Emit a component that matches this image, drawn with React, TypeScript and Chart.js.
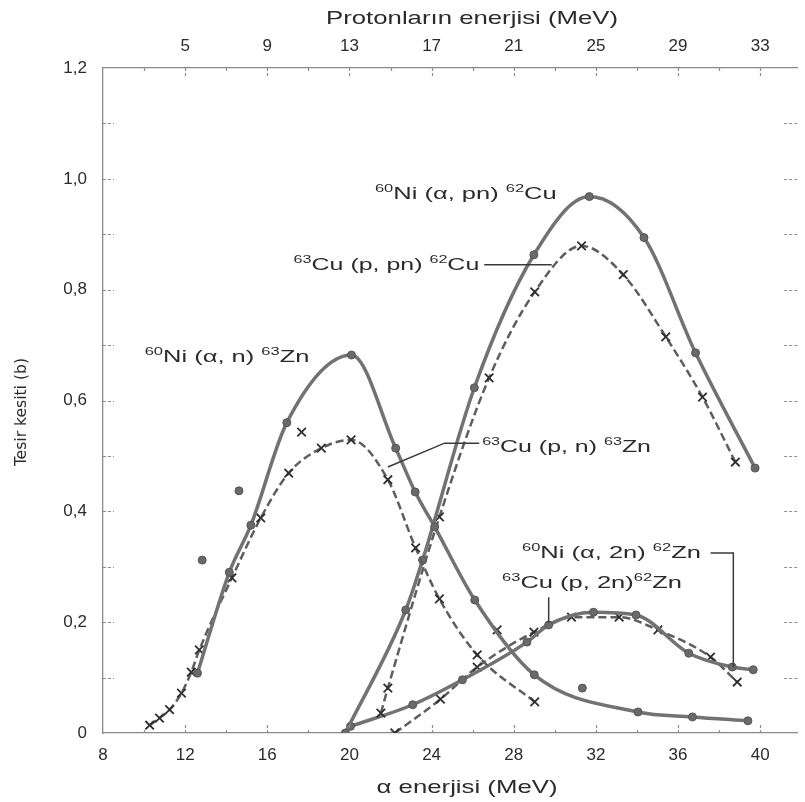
import React, { useEffect, useRef } from 'react';
import { Chart, registerables } from 'chart.js';

Chart.register(...registerables);

// ---- axis ticks ----
const alphaTicks = [8, 12, 16, 20, 24, 28, 32, 36, 40];
const protonTicks = [5, 9, 13, 17, 21, 25, 29, 33];
const sigmaTicks = [0, 0.2, 0.4, 0.6, 0.8, 1.0, 1.2];
const protonShift = 7; // alpha energy - proton energy at the same position

// ---- 60Ni(α,n)63Zn (solid, circles) ----
const niAnX = [12.6, 14.15, 15.2, 16.95, 20.1, 22.25, 23.2, 24.15, 26.1, 29.0, 34.05, 36.7, 39.4];
const niAnY = [0.108, 0.29, 0.375, 0.56, 0.682, 0.514, 0.435, 0.372, 0.24, 0.105, 0.038, 0.029, 0.022];

// ---- 63Cu(p,n)63Zn (dashed, crosses) ----
const cuPnX = [10.27, 10.75, 11.24, 11.82, 12.3, 12.69, 14.28, 15.68, 17.04, 18.63, 20.08, 21.87, 23.22, 24.38, 26.22, 29.02];
const cuPnY = [0.014, 0.027, 0.042, 0.072, 0.11, 0.15, 0.28, 0.388, 0.469, 0.514, 0.529, 0.457, 0.334, 0.242, 0.141, 0.056];

// ---- 60Ni(α,pn)62Cu (solid, circles) ----
const niApnX = [19.8, 22.74, 23.56, 26.08, 28.98, 31.68, 34.34, 36.85, 39.75];
const niApnY = [0.0, 0.222, 0.312, 0.623, 0.863, 0.968, 0.894, 0.686, 0.478];

// ---- 63Cu(p,pn)62Cu (dashed, crosses) ----
const cuPpnX = [21.53, 21.87, 24.38, 26.8, 29.02, 31.3, 33.33, 35.4, 37.19, 38.79];
const cuPpnY = [0.036, 0.081, 0.39, 0.641, 0.796, 0.879, 0.827, 0.715, 0.606, 0.489];

// ---- 60Ni(α,2n)62Zn (solid, circles) ----
const niA2nX = [20.05, 23.08, 25.5, 28.64, 29.7, 31.88, 33.95, 36.52, 38.64, 39.66];
const niA2nY = [0.012, 0.051, 0.096, 0.164, 0.195, 0.218, 0.213, 0.144, 0.119, 0.114];

// ---- 63Cu(p,2n)62Zn (dashed, crosses) ----
const cuP2nX = [22.21, 24.43, 26.22, 28.98, 30.81, 33.13, 35.02, 37.58, 38.88];
const cuP2nY = [0.0, 0.061, 0.119, 0.182, 0.209, 0.209, 0.186, 0.137, 0.092];

// ---- isolated measurements ----
const strayDotX = [12.83, 14.62, 31.34];
const strayDotY = [0.312, 0.437, 0.081];
const strayCrossX = [17.67, 27.19];
const strayCrossY = [0.543, 0.186];

const FONT = '"Liberation Sans", Arial, Helvetica, sans-serif';
const NARROW = '"Liberation Sans Narrow", "DejaVu Sans Condensed", "Liberation Sans", sans-serif';
const INK = '#2b2b2b';

const pts = (xs: number[], ys: number[]) => xs.map((x, i) => ({ x, y: ys[i] }));

type Seg = [string, boolean];
interface Label {
  segs: Seg[];
  x1: number;
  x2: number;
  y: number;
  leader?: [number, number][];
}

const labels: Label[] = [
  { segs: [['60', true], ['Ni (α, n) ', false], ['63', true], ['Zn', false]], x1: 10.03, x2: 18.14, y: 0.67 },
  { segs: [['60', true], ['Ni (α, pn) ', false], ['62', true], ['Cu', false]], x1: 21.24, x2: 30.09, y: 0.964 },
  {
    segs: [['63', true], ['Cu (p, pn) ', false], ['62', true], ['Cu', false]], x1: 17.28, x2: 26.32, y: 0.836,
    leader: [[26.56, 0.845], [29.85, 0.845]],
  },
  {
    segs: [['63', true], ['Cu (p, n) ', false], ['63', true], ['Zn', false]], x1: 26.46, x2: 34.68, y: 0.507,
    leader: [[26.32, 0.523], [24.63, 0.523], [21.87, 0.48]],
  },
  {
    segs: [['60', true], ['Ni (α, 2n) ', false], ['62', true], ['Zn', false]], x1: 28.4, x2: 37.34, y: 0.316,
    leader: [[37.58, 0.325], [38.69, 0.325], [38.69, 0.119]],
  },
  {
    segs: [['63', true], ['Cu (p, 2n)', false], ['62', true], ['Zn', false]], x1: 27.43, x2: 36.47, y: 0.262,
    leader: [[29.7, 0.245], [29.7, 0.199]],
  },
];

function drawFit(ctx: CanvasRenderingContext2D, text: string, cx: number, cy: number, size: number, targetW: number, family: string, rot = 0) {
  ctx.save();
  ctx.font = `${size}px ${family}`;
  const w = ctx.measureText(text).width;
  const sx = Math.max(0.75, Math.min(1.5, targetW / w));
  ctx.translate(cx, cy);
  ctx.rotate(rot);
  ctx.scale(sx, 1);
  ctx.fillStyle = INK;
  ctx.textAlign = 'center';
  ctx.textBaseline = 'middle';
  ctx.fillText(text, 0, 0);
  ctx.restore();
}

const decorPlugin = {
  id: 'decor',
  afterDraw(chart: any) {
    const ctx: CanvasRenderingContext2D = chart.ctx;
    const { left, right, top, bottom } = chart.chartArea;
    const xs = chart.scales.x;
    const ys = chart.scales.y;

    // inner tick marks
    ctx.save();
    ctx.strokeStyle = '#8c8c8c';
    ctx.lineWidth = 1.2;
    ctx.setLineDash([3, 2]);
    ctx.beginPath();
    for (let v = 0.1; v < 1.2; v += 0.1) {
      const py = Math.round(ys.getPixelForValue(v)) + 0.5;
      ctx.moveTo(left, py);
      ctx.lineTo(left + 11, py);
      ctx.moveTo(right, py);
      ctx.lineTo(right - 14, py);
    }
    for (let v = 10; v <= 40; v += 2) {
      const px = Math.round(xs.getPixelForValue(v)) + 0.5;
      ctx.moveTo(px, bottom);
      ctx.lineTo(px, bottom - (v % 4 === 0 ? 8 : 5));
      ctx.moveTo(px, top);
      ctx.lineTo(px, top + (v % 4 === 0 ? 8 : 5));
    }
    ctx.stroke();
    ctx.restore();

    // axis titles
    drawFit(ctx, 'Protonların enerjisi (MeV)', 472, 19, 19, 292, FONT);
    drawFit(ctx, 'α enerjisi (MeV)', 467, 788, 19, 181, FONT);
    drawFit(ctx, 'Tesir kesiti (b)', 22, 412, 16, 108, NARROW, -Math.PI / 2);

    // curve labels and leader lines
    const size = 17;
    const supSize = 11;
    for (const lab of labels) {
      const x1 = xs.getPixelForValue(lab.x1);
      const x2 = xs.getPixelForValue(lab.x2);
      const base = ys.getPixelForValue(lab.y);
      let w = 0;
      for (const [t, sup] of lab.segs) {
        ctx.font = `${sup ? supSize : size}px ${FONT}`;
        w += ctx.measureText(t).width;
      }
      const sx = Math.max(0.8, Math.min(1.5, (x2 - x1) / w));
      ctx.save();
      ctx.translate(x1, base);
      ctx.scale(sx, 1);
      ctx.fillStyle = INK;
      ctx.textAlign = 'left';
      ctx.textBaseline = 'alphabetic';
      let cx = 0;
      for (const [t, sup] of lab.segs) {
        ctx.font = `${sup ? supSize : size}px ${FONT}`;
        ctx.fillText(t, cx, sup ? -7 : 0);
        cx += ctx.measureText(t).width;
      }
      ctx.restore();
      if (lab.leader) {
        ctx.save();
        ctx.strokeStyle = '#3a3a3a';
        ctx.lineWidth = 1.5;
        ctx.beginPath();
        lab.leader.forEach(([lx, ly], i) => {
          const px = xs.getPixelForValue(lx);
          const py = ys.getPixelForValue(ly);
          if (i === 0) ctx.moveTo(px, py);
          else ctx.lineTo(px, py);
        });
        ctx.stroke();
        ctx.restore();
      }
    }
  },
};

const solid = (label: string, data: any[]) => ({
  label,
  data,
  showLine: true,
  borderColor: '#727272',
  borderWidth: 3.5,
  cubicInterpolationMode: 'monotone' as const,
  pointStyle: 'circle' as const,
  pointRadius: 4,
  pointBackgroundColor: '#6a6a6a',
  pointBorderColor: '#555555',
  pointBorderWidth: 1,
});

const dashed = (label: string, data: any[]) => ({
  label,
  data,
  showLine: true,
  borderColor: '#5e5e5e',
  borderWidth: 2.5,
  borderDash: [8, 4],
  cubicInterpolationMode: 'monotone' as const,
  pointStyle: 'crossRot' as const,
  pointRadius: 6,
  pointBorderColor: '#2e2e2e',
  pointBackgroundColor: '#2e2e2e',
  pointBorderWidth: 1.8,
});

export default function App() {
  const ref = useRef<HTMLCanvasElement | null>(null);

  useEffect(() => {
    if (!ref.current) return;
    const tickFont = { family: FONT, size: 17 };
    const axisBorder = { display: true, color: '#8a8a8a', width: 1.3, dash: [4, 2] };
    const chart = new Chart(ref.current, {
      type: 'scatter',
      data: {
        datasets: [
          solid('60Ni(α,n)63Zn', pts(niAnX, niAnY)),
          dashed('63Cu(p,n)63Zn', pts(cuPnX, cuPnY)),
          solid('60Ni(α,pn)62Cu', pts(niApnX, niApnY)),
          dashed('63Cu(p,pn)62Cu', pts(cuPpnX, cuPpnY)),
          solid('60Ni(α,2n)62Zn', pts(niA2nX, niA2nY)),
          dashed('63Cu(p,2n)62Zn', pts(cuP2nX, cuP2nY)),
          { ...solid('points', pts(strayDotX, strayDotY)), showLine: false },
          { ...dashed('points ×', pts(strayCrossX, strayCrossY)), showLine: false },
        ],
      },
      options: {
        responsive: false,
        animation: false,
        layout: { padding: { left: 0, right: 2, top: 0, bottom: 0 } },
        plugins: { legend: { display: false }, tooltip: { enabled: false }, title: { display: false } },
        scales: {
          x: {
            type: 'linear',
            position: 'bottom',
            min: 8,
            max: 41.8,
            afterBuildTicks: (s: any) => { s.ticks = alphaTicks.map((v) => ({ value: v })); },
            afterFit: (s: any) => { s.height = 69; },
            ticks: { font: tickFont, color: INK, padding: 4, maxRotation: 0, autoSkip: false },
            grid: { display: false },
            border: axisBorder,
          },
          xTop: {
            type: 'linear',
            position: 'top',
            min: 8 - protonShift,
            max: 41.8 - protonShift,
            afterBuildTicks: (s: any) => { s.ticks = protonTicks.map((v) => ({ value: v })); },
            afterFit: (s: any) => { s.height = 68; },
            ticks: { font: tickFont, color: INK, padding: 3, maxRotation: 0, autoSkip: false },
            grid: { display: false },
            border: axisBorder,
          },
          y: {
            type: 'linear',
            min: 0,
            max: 1.2,
            afterBuildTicks: (s: any) => { s.ticks = sigmaTicks.map((v) => ({ value: v })); },
            afterFit: (s: any) => { s.width = 103; },
            ticks: {
              font: tickFont,
              color: INK,
              padding: 8,
              callback: (v: any) => (Number(v) === 0 ? '0' : Number(v).toFixed(1).replace('.', ',')),
            },
            grid: { display: false },
            border: axisBorder,
          },
        },
      },
      plugins: [decorPlugin],
    } as any);
    return () => chart.destroy();
  }, []);

  return (
    <div style={{ position: 'fixed', left: 0, top: 0, width: 805, height: 802, background: '#ffffff' }}>
      <canvas ref={ref} width={805} height={802} style={{ width: 805, height: 802, display: 'block' }} />
    </div>
  );
}
